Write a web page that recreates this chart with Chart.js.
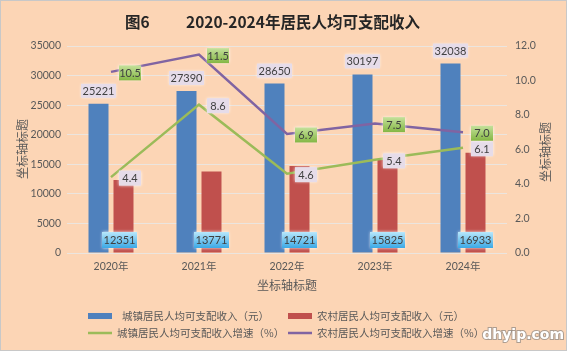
<!DOCTYPE html>
<html><head><meta charset="utf-8">
<script src="https://cdn.jsdelivr.net/npm/chart.js@4/dist/chart.umd.min.js"></script>
<style>html,body{margin:0;padding:0;background:#fcd5b5;}canvas{display:block;}</style>
</head><body>
<canvas id="c" width="567" height="351"></canvas>
<script>
const categories = ['2020年','2021年','2022年','2023年','2024年'];
const urbanIncome = [25221, 27390, 28650, 30197, 32038];
const ruralIncome = [12351, 13771, 14721, 15825, 16933];
const urbanGrowth = [4.4, 8.6, 4.6, 5.4, 6.1];
const ruralGrowth = [10.5, 11.5, 6.9, 7.5, 7.0];
const seriesNames = ['城镇居民人均可支配收入（元）','农村居民人均可支配收入（元）','城镇居民人均可支配收入增速（%）','农村居民人均可支配收入增速（%）'];
const titleLeft = '图6';
const titleMain = '2020-2024年居民人均可支配收入';
const axisTitle = '坐标轴标题';
const watermark = 'dhyip.com';

const NUM_FONT = 'Lato, "Noto Sans", sans-serif';
const CJK_FONT = '"Noto Sans CJK SC", "Noto Sans", sans-serif';
const TXT = '#595959';

function box(ctx, cx, cy, w, h, fill, text) {
  ctx.save();
  ctx.shadowColor = 'rgba(255,255,255,0.9)';
  ctx.shadowBlur = 3;
  ctx.fillStyle = fill;
  ctx.fillRect(cx - w/2, cy - h/2, w, h);
  ctx.restore();
  ctx.save();
  ctx.fillStyle = '#404040';
  ctx.font = '11px ' + NUM_FONT;
  ctx.textAlign = 'center';
  ctx.textBaseline = 'middle';
  ctx.fillText(text, cx, cy + 0.5);
  ctx.restore();
}

const decor = {
  id: 'decor',
  beforeDraw(chart) {
    const ctx = chart.ctx;
    ctx.save();
    ctx.fillStyle = '#fcd5b5';
    ctx.fillRect(0, 0, 567, 351);
    ctx.strokeStyle = '#c8c8c8';
    ctx.lineWidth = 1;
    ctx.strokeRect(0.5, 0.5, 566, 350);
    ctx.fillStyle = '#262626';
    ctx.font = 'bold 15.5px ' + CJK_FONT;
    ctx.textBaseline = 'middle';
    ctx.textAlign = 'left';
    ctx.fillText(titleLeft, 125, 22);
    ctx.fillText(titleMain, 186, 22);
    ctx.fillStyle = TXT;
    ctx.font = '12px ' + CJK_FONT;
    ctx.textAlign = 'center';
    ctx.fillText(axisTitle, 287, 285);
    ctx.save(); ctx.translate(22, 149); ctx.rotate(-Math.PI/2); ctx.fillText(axisTitle, 0, 0); ctx.restore();
    ctx.save(); ctx.translate(545, 152); ctx.rotate(-Math.PI/2); ctx.fillText(axisTitle, 0, 0); ctx.restore();
    ctx.font = '10.5px ' + CJK_FONT;
    ctx.textAlign = 'left';
    ctx.fillStyle = '#4f81bd'; ctx.fillRect(88, 313, 24, 6);
    ctx.fillStyle = '#c0504d'; ctx.fillRect(288, 313, 24, 6);
    ctx.lineWidth = 2.5;
    ctx.strokeStyle = '#9bbb59'; ctx.beginPath(); ctx.moveTo(88, 333); ctx.lineTo(112, 333); ctx.stroke();
    ctx.strokeStyle = '#8064a2'; ctx.beginPath(); ctx.moveTo(288, 333); ctx.lineTo(312, 333); ctx.stroke();
    ctx.fillStyle = TXT;
    ctx.fillText(seriesNames[0], 122, 316);
    ctx.fillText(seriesNames[1], 317, 316);
    ctx.fillText(seriesNames[2], 117, 333);
    ctx.fillText(seriesNames[3], 317, 333);
    ctx.restore();
  },
  afterDatasetsDraw(chart) {
    const ctx = chart.ctx;
    const m0 = chart.getDatasetMeta(2), m1 = chart.getDatasetMeta(3);
    const mg = chart.getDatasetMeta(0), mp = chart.getDatasetMeta(1);
    const lav = '#e6dce9';
    for (let i = 0; i < categories.length; i++) {
      const b = m0.data[i];
      box(ctx, b.x, b.y - 13, 35, 14, lav, String(urbanIncome[i]));
      const r = m1.data[i];
      const g = ctx.createLinearGradient(0, 232, 0, 248);
      g.addColorStop(0, '#b8e7fb'); g.addColorStop(1, '#3ba9e6');
      box(ctx, r.x - (i === 0 ? 4 : 0), 240, 35, 16, g, String(ruralIncome[i]));
      const pg = mg.data[i];
      box(ctx, pg.x + 19, pg.y + 1, 22, 15, lav, urbanGrowth[i].toFixed(1));
      const pp = mp.data[i];
      const gg = ctx.createLinearGradient(0, pp.y - 7, 0, pp.y + 8);
      gg.addColorStop(0, '#c6e29e'); gg.addColorStop(1, '#86b847');
      box(ctx, pp.x + 19, pp.y + 1, 22, 15, gg, ruralGrowth[i].toFixed(1));
    }
  },
  afterDraw(chart) {
    const ctx = chart.ctx;
    ctx.save();
    ctx.font = 'bold 14px "DejaVu Sans", sans-serif';
    ctx.textAlign = 'right';
    ctx.textBaseline = 'middle';
    ctx.lineWidth = 2;
    ctx.strokeStyle = 'rgba(120,120,120,0.6)';
    ctx.strokeText(watermark, 564, 335);
    ctx.fillStyle = '#ffffff';
    ctx.fillText(watermark, 564, 335);
    ctx.restore();
  }
};

new Chart(document.getElementById('c'), {
  type: 'bar',
  data: {
    labels: categories,
    datasets: [
      { type: 'line', label: seriesNames[2], data: urbanGrowth, yAxisID: 'y1', borderColor: '#9bbb59', borderWidth: 2.5, pointRadius: 0, tension: 0, order: 0 },
      { type: 'line', label: seriesNames[3], data: ruralGrowth, yAxisID: 'y1', borderColor: '#8064a2', borderWidth: 2.5, pointRadius: 0, tension: 0, order: 0 },
      { label: seriesNames[0], data: urbanIncome, yAxisID: 'y', backgroundColor: '#4f81bd', barPercentage: 0.8, categoryPercentage: 0.568, order: 1 },
      { label: seriesNames[1], data: ruralIncome, yAxisID: 'y', backgroundColor: '#c0504d', barPercentage: 0.8, categoryPercentage: 0.568, order: 1 }
    ]
  },
  options: {
    responsive: false,
    maintainAspectRatio: false,
    animation: false,
    layout: { padding: { top: 46, left: 0, right: 0, bottom: 0 } },
    plugins: { legend: { display: false }, tooltip: { enabled: false }, title: { display: false } },
    scales: {
      x: {
        grid: { display: false, drawTicks: false },
        border: { display: false },
        ticks: { color: TXT, font: { family: NUM_FONT + ', ' + CJK_FONT, size: 10.5 }, padding: 7 },
        afterFit(s) { s.height = 98; }
      },
      y: {
        position: 'left', min: 0, max: 35000,
        ticks: { stepSize: 5000, color: TXT, font: { family: NUM_FONT, size: 10.5 }, padding: 6, callback: v => String(v) },
        grid: { color: '#ebe5df', lineWidth: 1, drawTicks: false },
        border: { display: false },
        afterFit(s) { s.width = 67; }
      },
      y1: {
        position: 'right', min: 0, max: 12,
        ticks: { stepSize: 2, color: TXT, font: { family: NUM_FONT, size: 10.5 }, padding: 8, callback: v => Number(v).toFixed(1) },
        grid: { display: false, drawTicks: false },
        border: { display: false },
        afterFit(s) { s.width = 60; }
      }
    }
  },
  plugins: [decor]
});
</script>
</body></html>
